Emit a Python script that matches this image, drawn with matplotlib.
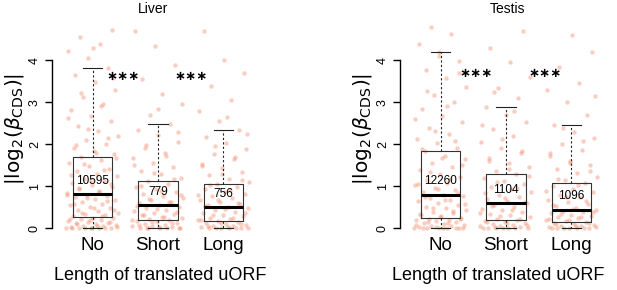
import matplotlib
matplotlib.use("Agg")
import matplotlib.pyplot as plt
import numpy as np

plt.rcParams['font.family'] = ['Liberation Sans', 'DejaVu Sans']

categories = ['No', 'Short', 'Long']
tissues = ['Liver', 'Testis']

# box statistics: lower whisker, q1, median, q3, upper whisker
liver_stats = [[0, 0.26, 0.81, 1.70, 3.83],
               [0, 0.18, 0.55, 1.12, 2.48],
               [0, 0.16, 0.50, 1.04, 2.33]]
testis_stats = [[0, 0.25, 0.80, 1.83, 4.21],
                [0, 0.19, 0.59, 1.28, 2.88],
                [0, 0.14, 0.44, 1.07, 2.46]]

liver_counts = [10595, 779, 756]
testis_counts = [12260, 1104, 1096]

# approximate sample of the overlaid points
liver_no = [0, 0, 0, 0, 0, 0.02, 0.04, 0.05, 0.07, 0.09, 0.11, 0.13, 0.15, 0.17, 0.19, 0.21, 0.23, 0.25,
            0.28, 0.31, 0.34, 0.37, 0.40, 0.44, 0.47, 0.51, 0.55, 0.58, 0.62, 0.66, 0.70, 0.74, 0.77, 0.80,
            0.84, 0.89, 0.93, 0.98, 1.03, 1.08, 1.13, 1.18, 1.24, 1.30, 1.36, 1.42, 1.49, 1.56, 1.63, 1.70,
            1.76, 1.84, 1.92, 2.01, 2.10, 2.20, 2.31, 2.43, 2.55, 2.68, 2.82, 2.97, 3.12, 3.30, 3.48, 3.66,
            3.83, 4.05, 4.22, 4.38, 4.55, 4.72,
            0, 0, 0, 0.01, 0.03, 0.06, 0.10, 0.14, 0.18, 0.22, 0.29, 0.36, 0.42, 0.49, 0.57, 0.64, 0.72,
            0.79, 0.87, 0.95, 1.05, 1.15, 1.27, 1.39, 1.52, 1.66, 1.80, 1.97, 2.15, 2.37, 2.62, 2.90, 3.22,
            3.58, 4.30]
liver_short = [0, 0, 0, 0, 0.02, 0.04, 0.06, 0.08, 0.10, 0.12, 0.14, 0.16, 0.18,
               0.21, 0.24, 0.27, 0.30, 0.33, 0.37, 0.40, 0.44, 0.48, 0.51, 0.55,
               0.59, 0.63, 0.67, 0.71, 0.76, 0.81, 0.86, 0.92, 0.98, 1.05, 1.12,
               1.20, 1.28, 1.37, 1.46, 1.56, 1.67, 1.79, 1.92, 2.06, 2.21, 2.35, 2.48,
               2.70, 2.95, 3.20, 3.55, 3.90, 4.35, 4.70,
               0, 0, 0.01, 0.03, 0.07, 0.11, 0.15, 0.20, 0.26, 0.32, 0.39, 0.46, 0.53,
               0.61, 0.69, 0.78, 0.89, 1.01, 1.16, 1.32, 1.51, 1.73, 1.98, 2.30, 2.85]
liver_long = [0, 0, 0, 0, 0.02, 0.04, 0.06, 0.08, 0.10, 0.12, 0.14, 0.16,
              0.19, 0.22, 0.25, 0.28, 0.31, 0.35, 0.39, 0.43, 0.47, 0.50,
              0.54, 0.58, 0.62, 0.66, 0.71, 0.76, 0.81, 0.87, 0.93, 0.99, 1.04,
              1.11, 1.18, 1.26, 1.34, 1.43, 1.53, 1.64, 1.76, 1.89, 2.03, 2.18, 2.33,
              2.55, 2.80, 3.05, 3.40, 3.70, 4.00, 4.70,
              0, 0, 0.01, 0.03, 0.05, 0.09, 0.13, 0.18, 0.24, 0.30, 0.37, 0.45, 0.52,
              0.60, 0.68, 0.78, 0.90, 1.02, 1.15, 1.30, 1.48, 1.70, 1.95, 2.25, 2.65]
testis_no = [0, 0, 0, 0, 0, 0.02, 0.04, 0.06, 0.08, 0.10, 0.12, 0.14, 0.16, 0.18, 0.20, 0.22, 0.25,
             0.28, 0.32, 0.35, 0.39, 0.43, 0.47, 0.51, 0.55, 0.60, 0.64, 0.68, 0.72, 0.76, 0.80,
             0.85, 0.90, 0.96, 1.02, 1.08, 1.15, 1.22, 1.30, 1.38, 1.46, 1.55, 1.64, 1.73, 1.83,
             1.92, 2.02, 2.13, 2.25, 2.38, 2.52, 2.67, 2.83, 3.00, 3.18, 3.37, 3.57, 3.78, 3.99,
             4.21, 4.40, 4.62, 4.80,
             0, 0, 0, 0.01, 0.03, 0.07, 0.11, 0.15, 0.21, 0.27, 0.34, 0.41, 0.49, 0.58, 0.66, 0.74,
             0.83, 0.93, 1.05, 1.18, 1.34, 1.50, 1.68, 1.88, 2.08, 2.32, 2.60, 2.92, 3.28, 3.70, 4.10]
testis_short = [0, 0, 0, 0, 0.02, 0.04, 0.06, 0.08, 0.10, 0.12, 0.14, 0.16, 0.19,
                0.22, 0.26, 0.30, 0.34, 0.38, 0.42, 0.46, 0.50, 0.55, 0.59,
                0.64, 0.69, 0.74, 0.80, 0.86, 0.92, 0.99, 1.06, 1.13, 1.20, 1.28,
                1.36, 1.45, 1.55, 1.66, 1.78, 1.91, 2.05, 2.20, 2.36, 2.53, 2.70, 2.88,
                3.10, 3.35, 3.60, 3.95, 4.30, 4.70,
                0, 0, 0.01, 0.03, 0.07, 0.11, 0.15, 0.21, 0.28, 0.36, 0.44, 0.52, 0.62,
                0.72, 0.83, 0.95, 1.10, 1.24, 1.40, 1.60, 1.84, 2.12, 2.45, 2.80, 3.25]
testis_long = [0, 0, 0, 0, 0.02, 0.04, 0.06, 0.08, 0.10, 0.12, 0.14,
               0.17, 0.20, 0.23, 0.26, 0.29, 0.32, 0.35, 0.38, 0.41, 0.44,
               0.48, 0.52, 0.57, 0.62, 0.67, 0.73, 0.79, 0.86, 0.93, 1.00, 1.07,
               1.14, 1.22, 1.31, 1.40, 1.50, 1.61, 1.73, 1.86, 2.00, 2.15, 2.30, 2.46,
               2.70, 3.00, 3.30, 3.45, 3.85, 4.20, 4.60,
               0, 0, 0.01, 0.03, 0.05, 0.09, 0.13, 0.18, 0.22, 0.27, 0.33, 0.39, 0.46,
               0.54, 0.64, 0.75, 0.88, 1.03, 1.18, 1.36, 1.56, 1.80, 2.08, 2.38, 3.15]

liver_points = [liver_no, liver_short, liver_long]
testis_points = [testis_no, testis_short, testis_long]

# significance stars between groups (x, y in data units)
liver_stars = [(1.46, 3.62), (2.5, 3.62)]
testis_stars = [(1.54, 3.69), (2.6, 3.69)]

fig = plt.figure(figsize=(6.17, 2.9), dpi=100)

panels = [
    (52, liver_stats, liver_counts, liver_points, liver_stars, 'Liver', 153, 160),
    (400, testis_stats, testis_counts, testis_points, testis_stars, 'Testis', 508, 498),
]

for left_px, stats, counts, points, stars, title, title_x, xlab_x in panels:
    ax = fig.add_axes([left_px / 617, 54 / 290, 212 / 617, 215 / 290])
    ax.set_xlim(0.38, 3.62)
    ax.set_ylim(-0.19, 4.94)

    for i, vals in enumerate(points):
        vals = np.array(vals)
        n = len(vals)
        jit = ((np.arange(n) * 0.618034 + 0.3 * i) % 1 - 0.5) * 0.8
        ax.scatter(i + 1 + jit, vals, s=10, color='#f08462', alpha=0.4,
                   linewidths=0, zorder=1)

    bstats = []
    for s, lab in zip(stats, categories):
        bstats.append(dict(whislo=s[0], q1=s[1], med=s[2], q3=s[3], whishi=s[4],
                           fliers=[], label=lab))
    ax.bxp(bstats, positions=[1, 2, 3], widths=0.6, showfliers=False,
           boxprops=dict(color='#333333', linewidth=0.8),
           medianprops=dict(color='black', linewidth=2.2),
           whiskerprops=dict(color='#222222', linewidth=0.8, linestyle=(0, (2, 2))),
           capprops=dict(color='#222222', linewidth=0.8),
           capwidths=0.3, zorder=3)

    for i, c in enumerate(counts):
        ax.text(i + 1, stats[i][2] + 0.17, str(c), ha='center', va='bottom',
                fontsize=8.5, zorder=4)

    for sx, sy in stars:
        ax.text(sx, sy, '\u2217\u2217\u2217', ha='center', va='center',
                fontsize=9.5, family='DejaVu Sans', fontweight='bold')

    for sp in ['top', 'right', 'bottom']:
        ax.spines[sp].set_visible(False)
    ax.spines['left'].set_bounds(0, 4)
    ax.spines['left'].set_linewidth(1.0)
    ax.set_yticks([0, 1, 2, 3, 4])
    ax.set_yticklabels(['0', '1', '2', '3', '4'], rotation=90, va='center',
                       fontsize=9)
    ax.tick_params(axis='y', length=5, width=1.0, pad=3)
    ax.set_xticks([1, 2, 3])
    ax.set_xticklabels(categories, fontsize=13.5)
    ax.tick_params(axis='x', length=0, pad=1)
    ax.set_ylabel(r'$|\mathrm{log}_2(\beta_{\mathrm{CDS}})|$', fontsize=14.5, labelpad=2)

    fig.text(title_x / 617, 1 - 9 / 290, title, ha='center', va='center', fontsize=10)
    fig.text(xlab_x / 617, 1 - 276 / 290, 'Length of translated uORF', ha='center',
             va='center', fontsize=13)

fig.savefig('out.png', dpi=100)
